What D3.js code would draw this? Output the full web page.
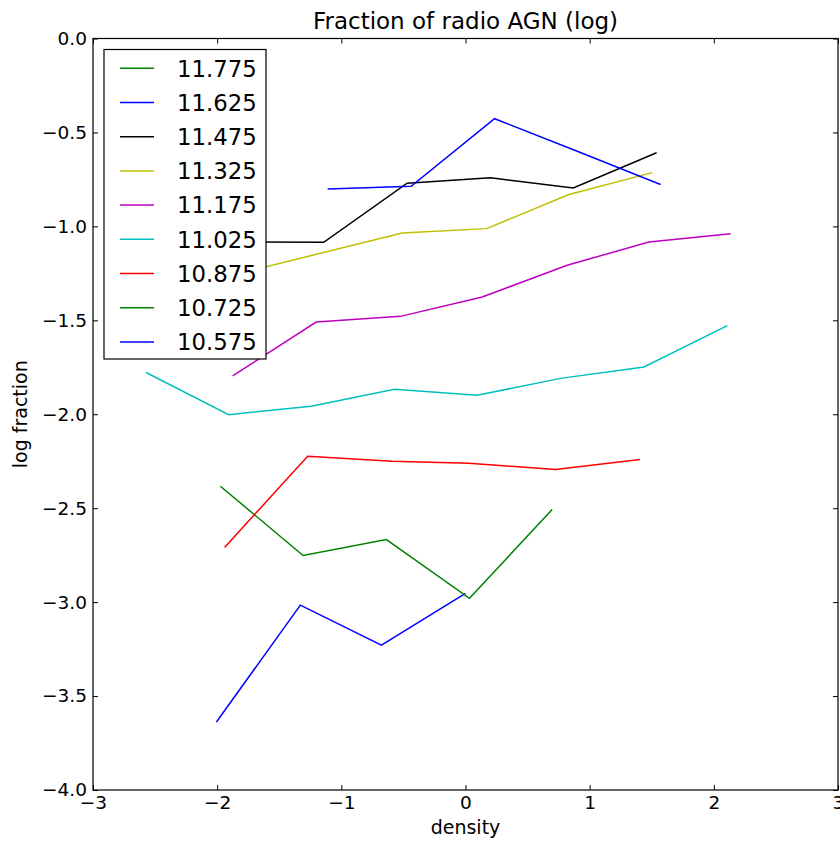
<!DOCTYPE html>
<html><head><meta charset="utf-8">
<script src="https://cdn.jsdelivr.net/npm/d3@7"></script>
<style>body{margin:0;background:#fff;}svg{display:block;font-family:"DejaVu Sans",sans-serif;}</style>
</head><body>
<svg id="chart" width="840" height="841"></svg>
<script>
// Series labels (stellar mass bins), plotting order
const seriesLabels = ["10.575","10.725","10.875","11.025","11.175","11.325","11.475","11.625","11.775"];
const seriesColors = ["#0000ff","#008000","#ff0000","#00bfbf","#bf00bf","#bfbf00","#000000","#0000ff","#008000"];

// density (x) and log fraction (y) per series
const x10575 = [-2.006,-1.33,-0.677,0.0];
const y10575 = [-3.638,-3.016,-3.229,-2.954];
const x10725 = [-1.974,-1.308,-0.637,0.032,0.698];
const y10725 = [-2.383,-2.752,-2.667,-2.980,-2.507];
const x10875 = [-1.94,-1.271,-0.591,0.027,0.725,1.405];
const y10875 = [-2.709,-2.223,-2.25,-2.261,-2.294,-2.241];
const x11025 = [-2.573,-1.907,-1.243,-0.572,0.094,0.765,1.437,2.109];
const y11025 = [-1.778,-2.002,-1.957,-1.867,-1.899,-1.809,-1.748,-1.528];
const x11175 = [-1.875,-1.203,-0.524,0.134,0.819,1.477,2.135];
const y11175 = [-1.796,-1.509,-1.479,-1.376,-1.207,-1.083,-1.039];
const x11325 = [-1.85,-0.51,0.169,0.833,1.504];
const y11325 = [-1.255,-1.035,-1.012,-0.830,-0.714];
const x11475 = [-1.8,-1.142,-0.47,0.201,0.868,1.539];
const y11475 = [-1.083,-1.085,-0.77,-0.741,-0.796,-0.608];
const x11625 = [-1.11,-0.438,0.234,0.9,1.571];
const y11625 = [-0.801,-0.787,-0.427,-0.6,-0.777];
const x11775 = [];
const y11775 = [];

const xTicks = [-3,-2,-1,0,1,2,3];
const yTicks = [0.0,-0.5,-1.0,-1.5,-2.0,-2.5,-3.0,-3.5,-4.0];

const seriesX = [x10575,x10725,x10875,x11025,x11175,x11325,x11475,x11625,x11775];
const seriesY = [y10575,y10725,y10875,y11025,y11175,y11325,y11475,y11625,y11775];

const L = 93, R = 838, T = 38.5, B = 790;
const svg = d3.select("#chart");
const x = d3.scaleLinear().domain([-3,3]).range([L,R]);
const y = d3.scaleLinear().domain([-4,0]).range([B,T]);

const fmtY = d => d3.format(".1f")(d).replace("-","\u2212");
const fmtX = d => String(d).replace("-","\u2212");

// clip
svg.append("defs").append("clipPath").attr("id","clip")
  .append("rect").attr("x",L).attr("y",T).attr("width",R-L).attr("height",B-T);

// lines
const line = d3.line().x(d=>x(d[0])).y(d=>y(d[1]));
const g = svg.append("g").attr("clip-path","url(#clip)");
seriesX.forEach((xs,i)=>{
  const pts = xs.map((v,j)=>[v,seriesY[i][j]]);
  if(!pts.length) return;
  g.append("path").datum(pts).attr("d",line).attr("fill","none")
    .attr("stroke",seriesColors[i]).attr("stroke-width",1.5);
});

// axes (ticks inward)
const tickLen = 5;
const axB = svg.append("g").attr("transform",`translate(0,${B})`)
  .call(d3.axisBottom(x).tickValues(xTicks).tickSize(-tickLen).tickPadding(5).tickFormat(fmtX));
const axT = svg.append("g").attr("transform",`translate(0,${T})`)
  .call(d3.axisTop(x).tickValues(xTicks).tickSize(-tickLen).tickFormat(""));
const axL = svg.append("g").attr("transform",`translate(${L},0)`)
  .call(d3.axisLeft(y).tickValues(yTicks).tickSize(-tickLen).tickPadding(8).tickFormat(fmtY));
const axR = svg.append("g").attr("transform",`translate(${R},0)`)
  .call(d3.axisRight(y).tickValues(yTicks).tickSize(-tickLen).tickFormat(""));
[axB,axT,axL,axR].forEach(a=>{
  a.select(".domain").remove();
  a.selectAll(".tick line").attr("stroke","#000");
  a.selectAll("text").attr("font-size",18.5).attr("fill","#000").attr("font-family","DejaVu Sans");
});
axB.selectAll("text").attr("y",5).attr("dy","0.74em");
axL.selectAll("text").attr("dx","2");

svg.append("rect").attr("x",L).attr("y",T).attr("width",R-L).attr("height",B-T)
  .attr("fill","none").attr("stroke","#000").attr("stroke-width",1.2);

// title and labels
svg.append("text").attr("x",(L+R)/2).attr("y",29).attr("text-anchor","middle")
  .attr("font-size",23).text("Fraction of radio AGN (log)");
svg.append("text").attr("x",(L+R)/2).attr("y",834).attr("text-anchor","middle")
  .attr("font-size",19).text("density");
svg.append("text").attr("transform",`translate(27,${(T+B)/2}) rotate(-90)`).attr("text-anchor","middle")
  .attr("font-size",19).text("log fraction");

// legend (reverse order)
const lg = svg.append("g");
lg.append("rect").attr("x",104).attr("y",49.5).attr("width",162).attr("height",309.5)
  .attr("fill","#fff").attr("stroke","#000").attr("stroke-width",1.2);
const order = d3.range(seriesLabels.length).reverse();
order.forEach((si,k)=>{
  const yy = 68.3 + k*34.2;
  lg.append("line").attr("x1",120).attr("x2",154).attr("y1",yy).attr("y2",yy)
    .attr("stroke",seriesColors[si]).attr("stroke-width",1.5);
  lg.append("text").attr("x",177).attr("y",yy).attr("dy","0.36em")
    .attr("font-size",22.8).text(seriesLabels[si]);
});
</script>
</body></html>
